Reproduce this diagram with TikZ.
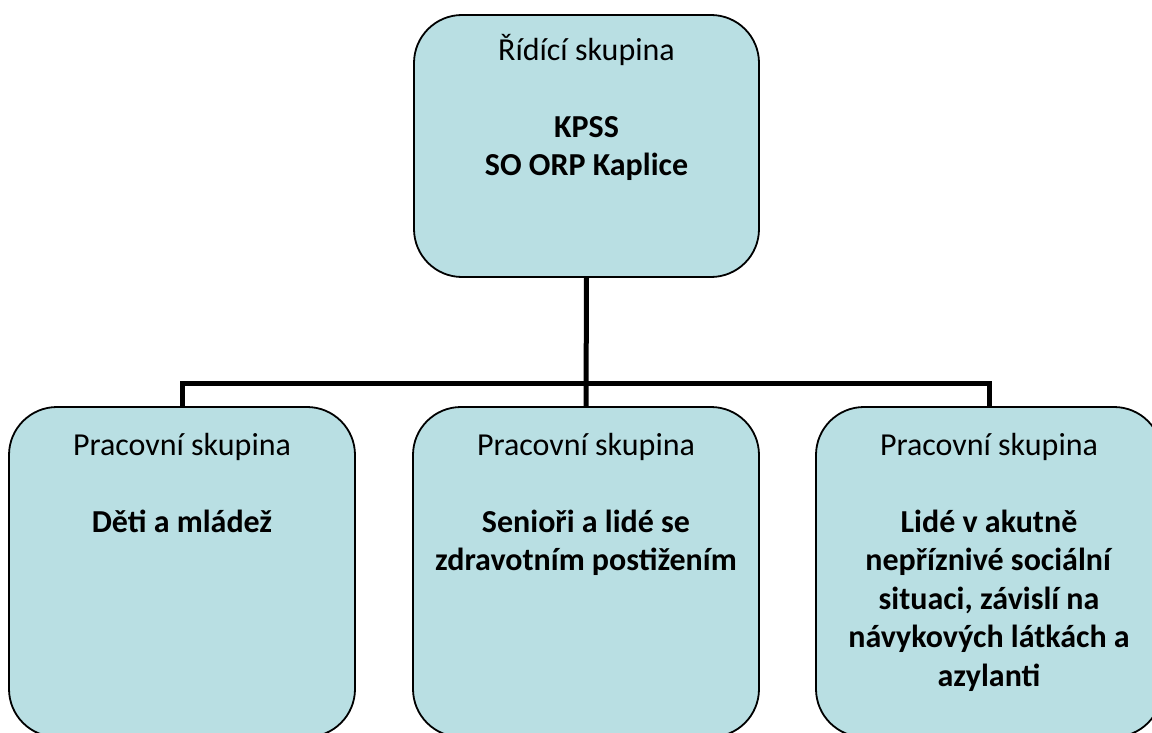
\documentclass[tikz,border=0pt]{standalone}
\usepackage{fontspec}
\setmainfont{Carlito}
\definecolor{boxfill}{RGB}{185,223,227}
\begin{document}
\begin{tikzpicture}[x=1pt,y=-1pt,
  grpbox/.style={draw=black, line width=1.8pt, fill=boxfill, rounded corners=48pt,
    minimum width=346pt, minimum height=330pt, inner sep=0pt, outer sep=0pt},
  topbox/.style={grpbox, minimum width=345pt, minimum height=262pt},
  conn/.style={draw=black, line width=5pt},
  txt/.style={anchor=north, align=center, inner sep=0pt, text=black,
    font=\fontsize{32}{38.5}\selectfont}
]
\useasboundingbox (0,0) rectangle (1152,733);
\clip (0,0) rectangle (1152,733);
\node[topbox] (top) at (586.5,146) {};
\node[grpbox] (left) at (182,572) {};
\node[grpbox] (mid) at (586,572) {};
\node[grpbox] (right) at (989,572) {};
\coordinate (bus) at (586,383);
\draw[conn] (top.south) -- (mid.north);
\draw[conn] (left.north) |- (bus) -| (right.north);
\node[txt] (toptxt) at (586.5,30) {\rule{0pt}{30pt}Řídící skupina\\[38.5pt]\textbf{KPSS}\\\textbf{SO ORP Kaplice}};
\node[txt] (lefttxt) at (182,425) {\rule{0pt}{30pt}Pracovní skupina\\[38.5pt]\textbf{Děti a mládež}};
\node[txt] (midtxt) at (586,425) {\rule{0pt}{30pt}Pracovní skupina\\[38.5pt]\textbf{Senioři a lidé se}\\\textbf{zdravotním postižením}};
\node[txt] (righttxt) at (989,425) {\rule{0pt}{30pt}Pracovní skupina\\[38.5pt]\textbf{Lidé v akutně}\\\textbf{nepříznivé sociální}\\\textbf{situaci, závislí na}\\\textbf{návykových látkách a}\\\textbf{azylanti}};
\end{tikzpicture}
\end{document}
